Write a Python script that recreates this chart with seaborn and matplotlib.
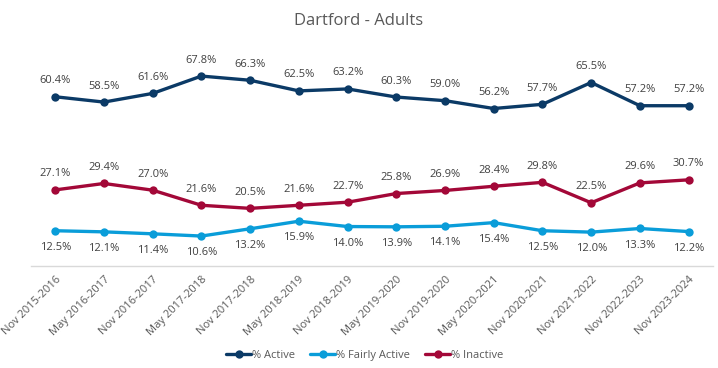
import pandas as pd
import matplotlib
matplotlib.use("Agg")
import matplotlib.pyplot as plt
import seaborn as sns

periods = ["Nov 2015-2016", "May 2016-2017", "Nov 2016-2017", "May 2017-2018",
           "Nov 2017-2018", "May 2018-2019", "Nov 2018-2019", "May 2019-2020",
           "Nov 2019-2020", "May 2020-2021", "Nov 2020-2021", "Nov 2021-2022",
           "Nov 2022-2023", "Nov 2023-2024"]
active = [60.4, 58.5, 61.6, 67.8, 66.3, 62.5, 63.2, 60.3, 59.0, 56.2, 57.7, 65.5, 57.2, 57.2]
fairly_active = [12.5, 12.1, 11.4, 10.6, 13.2, 15.9, 14.0, 13.9, 14.1, 15.4, 12.5, 12.0, 13.3, 12.2]
inactive = [27.1, 29.4, 27.0, 21.6, 20.5, 21.6, 22.7, 25.8, 26.9, 28.4, 29.8, 22.5, 29.6, 30.7]

series_names = ["% Active", "% Fairly Active", "% Inactive"]
colors = {"% Active": "#0B3A66", "% Fairly Active": "#0A9DD9", "% Inactive": "#A30838"}
label_offset = {"% Active": 11.5, "% Fairly Active": -12, "% Inactive": 11.5}

rows = []
for name, vals in zip(series_names, [active, fairly_active, inactive]):
    for p, v in zip(periods, vals):
        rows.append({"period": p, "value": v, "series": name})
df = pd.DataFrame(rows)

sns.set_style("white")
plt.rcParams["font.family"] = ["Open Sans", "DejaVu Sans"]
text_color = "#595959"

fig = plt.figure(figsize=(7.18, 3.68), dpi=100)
ax = fig.add_axes([0.043, 0.278, 0.95, 0.608])

sns.lineplot(data=df, x="period", y="value", hue="series", hue_order=series_names,
             palette=colors, marker="o", markersize=6, markeredgewidth=0,
             linewidth=2.4, sort=False, ax=ax, legend=True)

x_pos = {p: i for i, p in enumerate(periods)}
for name, vals in zip(series_names, [active, fairly_active, inactive]):
    for p, v in zip(periods, vals):
        ax.annotate(f"{v:.1f}%", (x_pos[p], v), xytext=(0, label_offset[name]),
                    textcoords="offset points", ha="center", va="center",
                    fontsize=8, color="#404040")

ax.set_xlim(-0.5, len(periods) - 0.5)
ax.set_ylim(0, 80)
ax.set_yticks([])
ax.set_xlabel("")
ax.set_ylabel("")
ax.set_xticks(range(len(periods)))
ax.set_xticklabels(periods, rotation=45, ha="right", rotation_mode="anchor",
                   fontsize=8, color=text_color)
ax.tick_params(axis="x", length=0, pad=6)
for side in ["top", "right", "left"]:
    ax.spines[side].set_visible(False)
ax.spines["bottom"].set_color("#D9D9D9")
ax.spines["bottom"].set_linewidth(1)

handles, labels = ax.get_legend_handles_labels()
ax.legend_.remove()
fig.legend(handles, labels, loc="center", bbox_to_anchor=(0.508, 0.035), ncol=3,
           frameon=False, fontsize=8, handlelength=2.2, handletextpad=0.1,
           columnspacing=1.4, labelcolor=text_color)

fig.suptitle("Dartford - Adults", x=0.5, y=0.965, fontsize=12, color=text_color)

fig.savefig("out.png", dpi=100)
